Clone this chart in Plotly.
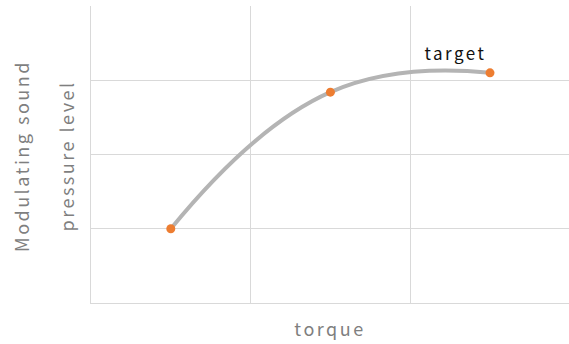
import plotly.graph_objects as go

torque = [0.5, 1.5, 2.5]
spl = [1.0, 2.84, 3.10]
target_label = "target"
x_title = "torque"
y_title_lines = ["Modulating sound", "pressure level"]

FONT = "Noto Sans CJK JP"
GRID = "#d9d9d9"
TITLE_COL = "#7f7f7f"

fig = go.Figure()
fig.add_trace(go.Scatter(
    x=torque, y=spl, mode="lines",
    line=dict(shape="spline", smoothing=1.3, color="#b4b4b4", width=4),
    hoverinfo="skip", showlegend=False))
fig.add_trace(go.Scatter(
    x=torque, y=spl, mode="markers",
    marker=dict(color="#ed7d31", size=9),
    showlegend=False))

fig.add_annotation(x=2.29, y=3.38, text=target_label, showarrow=False,
                   font=dict(family=FONT, size=17, color="#111111"),
                   xanchor="center", yanchor="middle")

fig.add_annotation(xref="paper", yref="paper", x=0, y=0.495, xshift=-70,
                   text=y_title_lines[0], textangle=-90, showarrow=False,
                   font=dict(family=FONT, size=18, color=TITLE_COL),
                   xanchor="center", yanchor="middle")
fig.add_annotation(xref="paper", yref="paper", x=0, y=0.495, xshift=-25,
                   text=y_title_lines[1], textangle=-90, showarrow=False,
                   font=dict(family=FONT, size=18, color=TITLE_COL),
                   xanchor="center", yanchor="middle")

fig.update_layout(
    width=569, height=344,
    margin=dict(l=91, r=0, t=6, b=41),
    paper_bgcolor="white", plot_bgcolor="white",
    xaxis=dict(range=[0, 2.995], dtick=1, showticklabels=False, ticks="",
               showgrid=True, gridcolor=GRID, gridwidth=1,
               zeroline=False, showline=True, linecolor=GRID, linewidth=1,
               title=dict(text=x_title, standoff=20,
                          font=dict(family=FONT, size=18, color=TITLE_COL))),
    yaxis=dict(range=[0, 4], dtick=1, showticklabels=False, ticks="",
               showgrid=True, gridcolor=GRID, gridwidth=1,
               zeroline=False, showline=True, linecolor=GRID, linewidth=1),
)

post = """
document.body.style.margin = '0';
document.body.style.overflow = 'hidden';
var els = document.querySelectorAll('.annotation-text, .xtitle');
els.forEach(function(e){ e.style.letterSpacing = '2.5px'; });
"""
fig.write_html("out.html", post_script=post, config={"displayModeBar": False})
